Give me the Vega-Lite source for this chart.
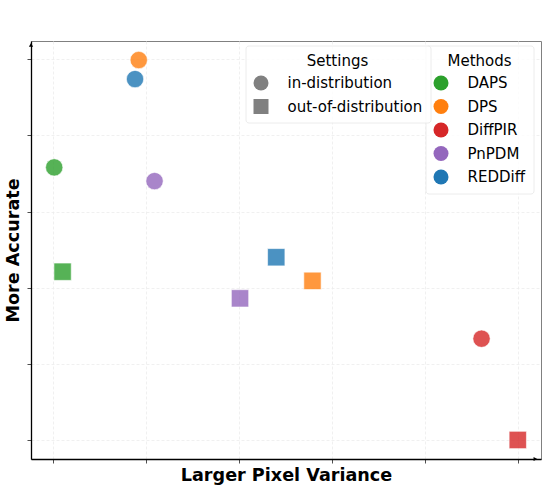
{
  "$schema": "https://vega.github.io/schema/vega-lite/v6.json",
  "width": 510,
  "height": 418,
  "autosize": {"type": "none"},
  "padding": {"left": 31, "top": 41, "right": 6, "bottom": 31},
  "config": {
    "font": "DejaVu Sans",
    "view": {"stroke": "#808080", "strokeWidth": 1},
    "axis": {
      "labels": false,
      "grid": true,
      "gridColor": "#ececec",
      "gridDash": [3, 2],
      "gridWidth": 0.8,
      "domainColor": "black",
      "domainWidth": 1.3,
      "tickColor": "#222222",
      "tickSize": 4,
      "tickWidth": 0.8,
      "titleFont": "DejaVu Sans",
      "titleFontSize": 17.6,
      "titleFontWeight": "bold",
      "titleColor": "black"
    },
    "legend": {
      "titleFont": "DejaVu Sans",
      "titleFontSize": 15,
      "titleFontWeight": "normal",
      "titleColor": "black",
      "titleAnchor": "middle",
      "titlePadding": 7,
      "labelFont": "DejaVu Sans",
      "labelFontSize": 15,
      "labelColor": "black",
      "labelOffset": 19,
      "labelLimit": 300,
      "symbolSize": 225,
      "symbolStrokeWidth": 0,
      "symbolOpacity": 1,
      "rowPadding": 7.5,
      "padding": 8,
      "strokeColor": "#ececec",
      "fillColor": "rgba(255,255,255,0.8)",
      "cornerRadius": 3
    }
  },
  "data": {
    "values": [
      {"method": "DAPS", "setting": "in-distribution", "variance": 0.01, "accuracy": 3.58},
      {"method": "DPS", "setting": "in-distribution", "variance": 0.92, "accuracy": 4.99},
      {"method": "REDDiff", "setting": "in-distribution", "variance": 0.88, "accuracy": 4.74},
      {"method": "PnPDM", "setting": "in-distribution", "variance": 1.09, "accuracy": 3.40},
      {"method": "DiffPIR", "setting": "in-distribution", "variance": 4.61, "accuracy": 1.33},
      {"method": "DAPS", "setting": "out-of-distribution", "variance": 0.10, "accuracy": 2.21},
      {"method": "PnPDM", "setting": "out-of-distribution", "variance": 2.01, "accuracy": 1.86},
      {"method": "REDDiff", "setting": "out-of-distribution", "variance": 2.40, "accuracy": 2.40},
      {"method": "DPS", "setting": "out-of-distribution", "variance": 2.79, "accuracy": 2.09},
      {"method": "DiffPIR", "setting": "out-of-distribution", "variance": 5.0, "accuracy": 0.0}
    ]
  },
  "layer": [
    {
      "mark": {"type": "point", "filled": true, "opacity": 0.8, "stroke": "white", "strokeWidth": 0.6, "size": 300},
      "encoding": {
        "x": {
          "field": "variance",
          "type": "quantitative",
          "title": "Larger Pixel Variance",
          "scale": {"domain": [-0.24, 5.25], "nice": false, "zero": false},
          "axis": {"values": [0, 1, 2, 3, 4, 5], "titlePadding": 3}
        },
        "y": {
          "field": "accuracy",
          "type": "quantitative",
          "title": "More Accurate",
          "scale": {"domain": [-0.25, 5.24], "nice": false, "zero": false},
          "axis": {"values": [0, 1, 2, 3, 4, 5], "titlePadding": 4}
        },
        "color": {
          "field": "method",
          "type": "nominal",
          "scale": {
            "domain": ["DAPS", "DPS", "DiffPIR", "PnPDM", "REDDiff"],
            "range": ["#2ca02c", "#ff7f0e", "#d62728", "#9467bd", "#1f77b4"]
          },
          "legend": {"title": "Methods", "orient": "none", "legendX": 394.5, "legendY": 4.5}
        },
        "shape": {
          "field": "setting",
          "type": "nominal",
          "scale": {"domain": ["in-distribution", "out-of-distribution"], "range": ["circle", "square"]},
          "legend": {
            "title": "Settings",
            "orient": "none",
            "legendX": 214.5,
            "legendY": 4.5,
            "symbolFillColor": "#808080",
            "symbolStrokeColor": "#808080",
            "encode": {
              "symbols": {
                "enter": {"fill": {"value": "#808080"}},
                "update": {"fill": {"value": "#808080"}, "opacity": {"value": 1}}
              }
            }
          }
        }
      }
    },
    {
      "data": {"values": [{}]},
      "mark": {"type": "point", "shape": "triangle-up", "filled": true, "color": "black", "opacity": 1, "size": 18},
      "encoding": {
        "x": {"datum": -0.24, "type": "quantitative"},
        "y": {"datum": 5.19, "type": "quantitative"}
      }
    },
    {
      "data": {"values": [{}]},
      "mark": {"type": "point", "shape": "triangle-right", "filled": true, "color": "black", "opacity": 1, "size": 18},
      "encoding": {
        "x": {"datum": 5.19, "type": "quantitative"},
        "y": {"datum": -0.25, "type": "quantitative"}
      }
    }
  ]
}
